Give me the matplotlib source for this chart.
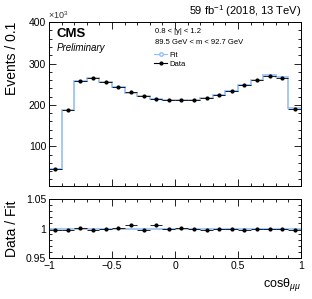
import numpy as np
import matplotlib
matplotlib.use('Agg')
import matplotlib.pyplot as plt
from matplotlib.ticker import MultipleLocator

plt.rcParams['font.family'] = ['Liberation Sans', 'DejaVu Sans']
plt.rcParams['mathtext.fontset'] = 'custom'
plt.rcParams['mathtext.rm'] = 'Liberation Sans'
plt.rcParams['mathtext.it'] = 'Liberation Sans:italic'

# bin edges of cos(theta), 20 bins
edges = np.linspace(-1, 1, 21)
# events per bin (x10^3)
data = [46, 187, 258, 265, 256, 244, 231, 221, 215, 213,
        213, 213, 216, 224, 234, 248, 261, 271, 266, 191]
ratio = [0.9975, 0.9975, 1.0014, 0.997, 1.0, 1.0003, 1.006, 0.997, 1.0054, 1.0,
         1.0014, 1.0, 0.997, 0.9986, 0.999, 0.997, 1.0, 0.999, 0.999, 0.9975]
data = np.array(data)
ratio = np.array(ratio)
fit = data / ratio

centers = 0.5 * (edges[:-1] + edges[1:])
xerr = 0.05
fitcol = '#98bdf2'

fig = plt.figure(figsize=(3.12, 2.99), dpi=100)
ax = fig.add_axes([0.157, 0.378, 0.808, 0.548])
ax2 = fig.add_axes([0.157, 0.137, 0.808, 0.197])

ax.stairs(fit, edges, color=fitcol, lw=1.2, baseline=None)
ax.errorbar(centers, data, xerr=xerr, fmt='o', color='black', ms=2, lw=0.6)
ax.plot([], [], '-o', color=fitcol, mfc='white', ms=2.5, lw=0.8, label='Fit')
ax.plot([], [], '-o', color='black', ms=2, lw=0.8, label='Data')
handles, labels = ax.get_legend_handles_labels()
ax.legend(handles[-2:], labels[-2:], loc='upper left', bbox_to_anchor=(0.40, 0.85),
          frameon=False, fontsize=5.5, handlelength=1.6, handletextpad=0.4,
          labelspacing=0.2, borderpad=0.1)

ax.set_xlim(-1, 1)
ax.set_ylim(4, 400)
ax.xaxis.set_major_locator(MultipleLocator(0.5))
ax.xaxis.set_minor_locator(MultipleLocator(0.1))
ax.yaxis.set_major_locator(MultipleLocator(100))
ax.yaxis.set_minor_locator(MultipleLocator(20))
ax.set_xticklabels([])
ax.set_ylabel('Events / 0.1', fontsize=10, loc='top')
ax.text(-0.005, 1.005, r'$\times10^3$', transform=ax.transAxes, fontsize=6.5,
        ha='left', va='bottom', color='#333333')

ax.text(0.03, 0.965, 'CMS', transform=ax.transAxes, fontsize=9.5, fontweight='bold',
        va='top')
ax.text(0.03, 0.87, 'Preliminary', transform=ax.transAxes, fontsize=7, style='italic',
        va='top')
ax.text(0.42, 0.965, '0.8 < |y| < 1.2', transform=ax.transAxes, fontsize=5.5, va='top')
ax.text(0.42, 0.895, '89.5 GeV < m < 92.7 GeV', transform=ax.transAxes, fontsize=5.5,
        va='top')
ax.text(1.0, 1.02, r'59 fb$^{-1}$ (2018, 13 TeV)', transform=ax.transAxes,
        fontsize=8, ha='right', va='bottom')

ax2.axhline(1, color=fitcol, lw=1.2)
ax2.errorbar(centers, ratio, xerr=xerr, fmt='o', color='black', ms=2, lw=0.6)
ax2.set_xlim(-1, 1)
ax2.set_ylim(0.95, 1.05)
ax2.xaxis.set_major_locator(MultipleLocator(0.5))
ax2.xaxis.set_minor_locator(MultipleLocator(0.1))
ax2.yaxis.set_minor_locator(MultipleLocator(0.01))
ax2.set_yticks([0.95, 1.0, 1.05])
ax2.set_yticklabels(['0.95', '1', '1.05'])
ax2.set_xticks([-1, -0.5, 0, 0.5, 1])
ax2.set_xticklabels(['\u22121', '\u22120.5', '0', '0.5', '1'])
ax2.set_ylabel('Data / Fit', fontsize=10)
ax2.set_xlabel('cos\u03b8$_{\\mu\\mu}$', fontsize=9, loc='right')

for a in (ax, ax2):
    a.tick_params(which='both', direction='in', top=True, right=True,
                  labelsize=7.5, width=0.6, pad=2)
    a.tick_params(which='major', length=5)
    a.tick_params(which='minor', length=2.5)
    for s in a.spines.values():
        s.set_linewidth(0.7)

ax.yaxis.set_label_coords(-0.12, 1.0)
ax2.yaxis.set_label_coords(-0.12, 0.5)

fig.savefig('out.png', dpi=100)
